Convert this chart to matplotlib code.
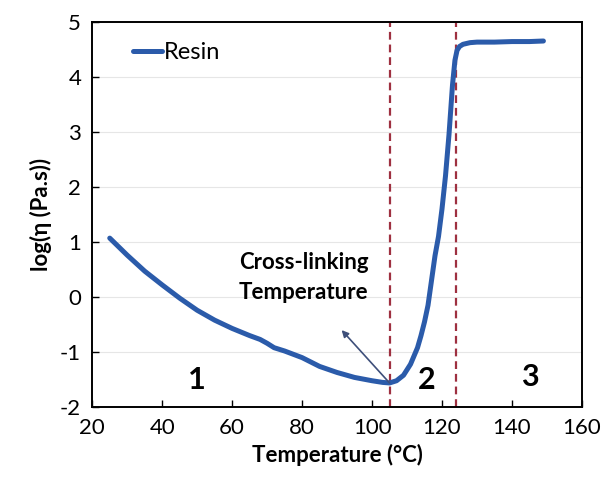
#!/usr/bin/env python3

import numpy as np
import matplotlib
matplotlib.use("Agg")
import matplotlib.pyplot as plt

plt.rcParams['font.family'] = ['Lato', 'DejaVu Sans']
plt.rcParams['axes.unicode_minus'] = False

# viscosity curve
temperature = [25, 30, 35, 40, 45, 50, 55, 60, 65, 68, 70, 72, 75, 80, 85, 90,
               95, 100, 103, 105, 107, 109, 111, 113, 114, 115, 116, 117, 118,
               119, 120, 121, 122, 123, 123.7, 124.3, 125, 126, 128, 130, 135,
               140, 145, 149]
log_eta = [1.07, 0.76, 0.47, 0.22, -0.02, -0.24, -0.42, -0.57, -0.7, -0.77,
           -0.84, -0.92, -0.98, -1.1, -1.26, -1.37, -1.46, -1.52, -1.55, -1.56,
           -1.52, -1.42, -1.22, -0.92, -0.7, -0.45, -0.15, 0.3, 0.75, 1.1, 1.6,
           2.2, 2.95, 3.85, 4.3, 4.48, 4.55, 4.59, 4.62, 4.63, 4.63, 4.64, 4.64,
           4.65]

boundaries = [105, 124]
region_labels = ["1", "2", "3"]
region_x = [50, 115.5, 145]
region_y = [-1.5, -1.5, -1.45]

xticks = [20, 40, 60, 80, 100, 120, 140, 160]
yticks = [-2, -1, 0, 1, 2, 3, 4, 5]

fig = plt.figure(figsize=(6.03, 4.83), dpi=100)
ax = fig.add_axes([0.153, 0.157, 0.812, 0.798])

ax.plot(temperature, log_eta, color="#2B5BAA", lw=3.6, label="Resin",
        solid_capstyle="round", zorder=3)
for b in boundaries:
    ax.axvline(b, color="#9E3040", lw=1.6, ls=(0, (3.5, 2.2)), zorder=2)

ax.set_xlim(20, 160)
ax.set_ylim(-2, 5)
ax.set_xticks(xticks)
ax.set_yticks(yticks)
ax.yaxis.grid(True, color="#E6E6E6", lw=0.8)
ax.set_axisbelow(True)
ax.tick_params(direction="in", length=5, width=1, labelsize=16, pad=8)
for s in ax.spines.values():
    s.set_linewidth(1.4)

ax.set_xlabel("Temperature (°C)", fontsize=16, fontweight="bold", labelpad=4)
ax.set_ylabel("log(η (Pa.s))", fontsize=16, fontweight="bold", labelpad=6)

for lab, x, y in zip(region_labels, region_x, region_y):
    ax.text(x, y, lab, fontsize=22, fontweight="bold", ha="center", va="center")

ax.text(80.5, -0.1, "Cross-linking\nTemperature", fontsize=16,
        fontweight="bold", ha="center", va="bottom", linespacing=1.5)
ax.annotate("", xy=(91.3, -0.6), xytext=(boundaries[0], -1.56),
            arrowprops=dict(arrowstyle="-|>", color="#3E4F7A", lw=1.2,
                            mutation_scale=10, shrinkA=0, shrinkB=0))

ax.legend(loc="upper left", frameon=False, fontsize=17, handlelength=1.2,
          handletextpad=0.1, borderaxespad=0.3, bbox_to_anchor=(0.05, 0.99))

fig.savefig("out.png", dpi=100)
